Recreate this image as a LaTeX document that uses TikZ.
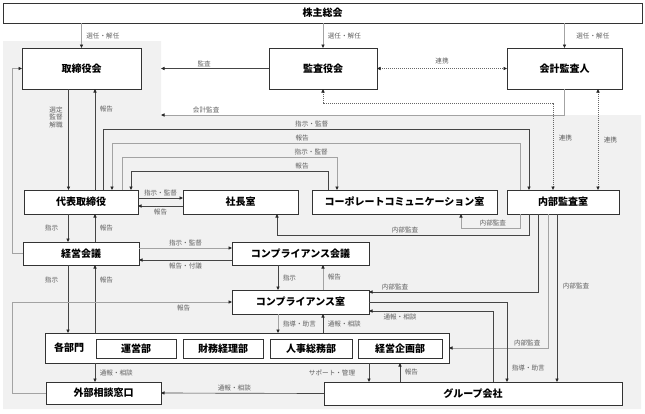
\documentclass[tikz,border=0pt]{standalone}
\usepackage{fontspec}
\setmainfont{Noto Sans CJK JP}
\usetikzlibrary{arrows.meta,positioning}
\definecolor{bgarea}{HTML}{F1F1F1}
\definecolor{dline}{HTML}{454545}
\definecolor{gline}{HTML}{A3A3A3}
\tikzstyle{box}=[draw=black!80,line width=0.9pt,fill=white,inner sep=0pt,outer sep=0pt,font=\bfseries\fontsize{10}{11}\selectfont]
\tikzstyle{boxtxt}=[inner sep=0pt,font=\bfseries\fontsize{10}{11}\selectfont]
\tikzstyle{lbl}=[inner sep=1.5pt,text=black!62,font=\fontsize{6.6}{7.5}\selectfont]
\tikzstyle{dk}=[draw=dline,line width=0.65pt,-{Triangle[length=3.5pt,width=3.2pt,color=black!85]}]
\tikzstyle{gy}=[draw=gline,line width=0.75pt,-{Triangle[length=3.5pt,width=3.2pt,color=black!85]}]
\tikzstyle{dt}=[draw=black!60,line width=0.5pt,dash pattern=on 0.8pt off 1.2pt,{Triangle[length=3.5pt,width=3.2pt,color=black!85]}-{Triangle[length=3.5pt,width=3.2pt,color=black!85]}]

\begin{document}
\begin{tikzpicture}[x=1pt,y=-1pt]
    \useasboundingbox (0,0) rectangle (645,413);
    \fill[bgarea] (3,41) -- (161,41) -- (161,115) -- (641,115) -- (641,409) -- (3,409) -- cycle;
    \coordinate (gedge) at (161,115);

    \node[box,minimum width=639pt,minimum height=20pt] (kabu) at (322.5,13) {株主総会};
    \node[box,minimum width=119pt,minimum height=41pt] (tori) at (81.5,68.5) {取締役会};
    \node[box,minimum width=108pt,minimum height=41pt] (kansa) at (323,68.5) {監査役会};
    \node[box,minimum width=115pt,minimum height=41pt] (kaikei) at (564.5,68.5) {会計監査人};
    \node[box,minimum width=114pt,minimum height=24pt] (daihyo) at (81,202) {代表取締役};
    \node[box,minimum width=115pt,minimum height=24pt] (shacho) at (240.5,202) {社長室};
    \node[box,minimum width=185pt,minimum height=24pt] (corp) at (404.5,202) {コーポレートコミュニケーション室};
    \node[box,minimum width=112pt,minimum height=24pt] (naibu) at (563,202) {内部監査室};
    \node[box,minimum width=116pt,minimum height=23pt] (keiei) at (81,253.5) {経営会議};
    \node[box,minimum width=137pt,minimum height=23pt] (compk) at (300.5,253.5) {コンプライアンス会議};
    \node[box,minimum width=137pt,minimum height=24pt] (comps) at (300.5,302) {コンプライアンス室};
    \node[box,minimum width=404pt,minimum height=30pt] (bumon) at (247,348) {};
    \node[boxtxt,anchor=west] (bumonlbl) at ([xshift=9pt]bumon.west) {各部門};
    \node[box,minimum width=80pt,minimum height=19pt] (unei) at (136,348.5) {運営部};
    \node[box,minimum width=80pt,minimum height=19pt] (zaimu) at (223,348.5) {財務経理部};
    \node[box,minimum width=82pt,minimum height=19pt] (jinji) at (311,348.5) {人事総務部};
    \node[box,minimum width=84pt,minimum height=19pt] (kikaku) at (400,348.5) {経営企画部};
    \node[box,minimum width=115pt,minimum height=22pt] (gaibu) at (103.5,393) {外部相談窓口};
    \node[box,minimum width=298pt,minimum height=23pt] (group) at (473,393.5) {グループ会社};

    \draw[gy] (kabu.south -| tori.north) -- node[lbl,right=3pt] {選任・解任} (tori.north);
    \draw[gy] (kabu.south -| kansa.north) -- node[lbl,right=3pt] {選任・解任} (kansa.north);
    \draw[gy] (kabu.south -| kaikei.north) -- node[lbl,right=10pt] {選任・解任} (kaikei.north);
    \draw[dk] (kansa.west) -- node[lbl,above,pos=0.6] {監査} (kansa.west -| gedge);
    \draw[dt] (kansa.east) -- node[lbl,above=3pt] {連携} (kaikei.west);
    \draw[gy] (kaikei.south) |- node[lbl,above,pos=0.944] {会計監査} (gedge);
    \draw[dt] (kansa.south) -- ++(0,14) -| node[lbl,right=4pt,pos=0.7] {連携} ([xshift=-10pt]naibu.north);
    \draw[dt] ([xshift=35pt]naibu.north) -- node[lbl,right=4pt] {連携} ([xshift=35pt]naibu.north |- kaikei.south);

    \draw[dk] ([xshift=-13pt]tori.south) -- node[lbl,left=4pt,pos=0.28,align=center,text=black!62] {選定\\監督\\解職} ([xshift=-13pt]tori.south |- daihyo.north);
    \draw[dk] ([xshift=14pt]daihyo.north) -- node[lbl,right=3pt,pos=0.8] {報告} ([xshift=14pt]daihyo.north |- tori.south);
    \draw[dk] ([xshift=22pt]daihyo.north) -- ++(0,-61) -| node[lbl,above,pos=0.245] {指示・監督} ([xshift=-34pt]naibu.north);
    \draw[gy] ([xshift=-43pt]naibu.north) -- ++(0,-47) -| node[lbl,above,pos=0.267] {報告} ([xshift=31pt]daihyo.north);
    \draw[gy] ([xshift=41pt]daihyo.north) -- ++(0,-33) -| node[lbl,above,pos=0.44] {指示・監督} ([xshift=-67.5pt]corp.north);
    \draw[dk] ([xshift=-76.5pt]corp.north) -- ++(0,-19) -| node[lbl,above,pos=0.066] {報告} ([xshift=50pt]daihyo.north);
    \draw[dk] ([yshift=4pt]daihyo.east) -- node[lbl,above] {指示・監督} ([yshift=4pt]daihyo.east -| shacho.west);
    \draw[dk] ([yshift=-4pt]shacho.west) -- node[lbl,below=1pt] {報告} ([yshift=-4pt]shacho.west -| daihyo.east);

    \draw[dk] ([xshift=-34pt]naibu.south) -- ++(0,21) -| node[lbl,above,pos=0.246] {内部監査} ([xshift=36.5pt]shacho.south);
    \draw[gy] ([xshift=-43pt]naibu.south) -- ++(0,14) -| node[lbl,above,pos=0.23] {内部監査} ([xshift=56.5pt]corp.south);
    \draw[dk] ([xshift=-25pt]naibu.south) |- node[lbl,above,pos=0.923] {内部監査} ([yshift=10pt]comps.east);
    \draw[gy] ([xshift=-15pt]naibu.south) |- node[lbl,above,pos=0.605] {内部監査} (bumon.east);
    \draw[dk] ([xshift=-6pt]naibu.south) -- node[lbl,right=4pt,pos=0.43] {内部監査} ([xshift=-6pt]naibu.south |- group.north);

    \draw[dk] ([xshift=-13pt]daihyo.south) -- node[lbl,left=8pt] {指示} ([xshift=-13pt]daihyo.south |- keiei.north);
    \draw[dk] ([xshift=14pt]keiei.north) -- node[lbl,right=3pt] {報告} ([xshift=14pt]keiei.north |- daihyo.south);
    \draw[dk] ([xshift=-13pt]keiei.south) -- node[lbl,left=8pt,pos=0.22] {指示} ([xshift=-13pt]keiei.south |- bumon.north);
    \draw[dk] ([xshift=14pt]bumon.north -| keiei.south) -- node[lbl,right=3pt,pos=0.78] {報告} ([xshift=14pt]keiei.south);
    \draw[gy] (keiei.west) -- ++(-11,0) |- (tori.west);
    \draw[gy] ([yshift=5.5pt]keiei.east) -- node[lbl,above] {指示・監督} ([yshift=5.5pt]keiei.east -| compk.west);
    \draw[dk] ([yshift=-6.5pt]compk.west) -- node[lbl,below=1pt] {報告・付議} ([yshift=-6.5pt]compk.west -| keiei.east);

    \draw[dk] ([xshift=-22.5pt]compk.south) -- node[lbl,right=3pt] {指示} ([xshift=-22.5pt]comps.north);
    \draw[gy] ([xshift=22.5pt]comps.north) -- node[lbl,right=3pt] {報告} ([xshift=22.5pt]compk.south);
    \draw[gy] ([xshift=-22.5pt]comps.south) -- node[lbl,right=3pt] {指導・助言} ([xshift=-22.5pt]comps.south |- bumon.north);
    \draw[dk] ([xshift=22.5pt]comps.south |- bumon.north) -- node[lbl,right=3pt] {通報・相談} ([xshift=22.5pt]comps.south);
    \draw[dk] (comps.east) -| node[lbl,right=3pt,pos=0.91] {指導・助言} ([xshift=34pt]group.north);
    \draw[dk] ([xshift=20pt]group.north) |- node[lbl,below=1pt,pos=0.875] {通報・相談} ([yshift=-9pt]comps.east);
    \draw[gy] (gaibu.west) -- ++(-34,0) |- node[lbl,below=1pt,pos=0.89] {報告} (comps.west);

    \draw[dk] ([xshift=-8.5pt]gaibu.north |- bumon.south) -- node[lbl,right=3pt] {通報・相談} ([xshift=-8.5pt]gaibu.north);
    \draw[dk] (group.west) -- node[lbl,above,pos=0.55] {通報・相談} (gaibu.east);
    \draw[dk] ([xshift=-104pt]group.north |- bumon.south) -- node[lbl,left=12pt] {サポート・管理} ([xshift=-104pt]group.north);
    \draw[dk] ([xshift=-73pt]group.north) -- node[lbl,right=3pt] {報告} ([xshift=-73pt]group.north |- bumon.south);
\end{tikzpicture}
\end{document}
